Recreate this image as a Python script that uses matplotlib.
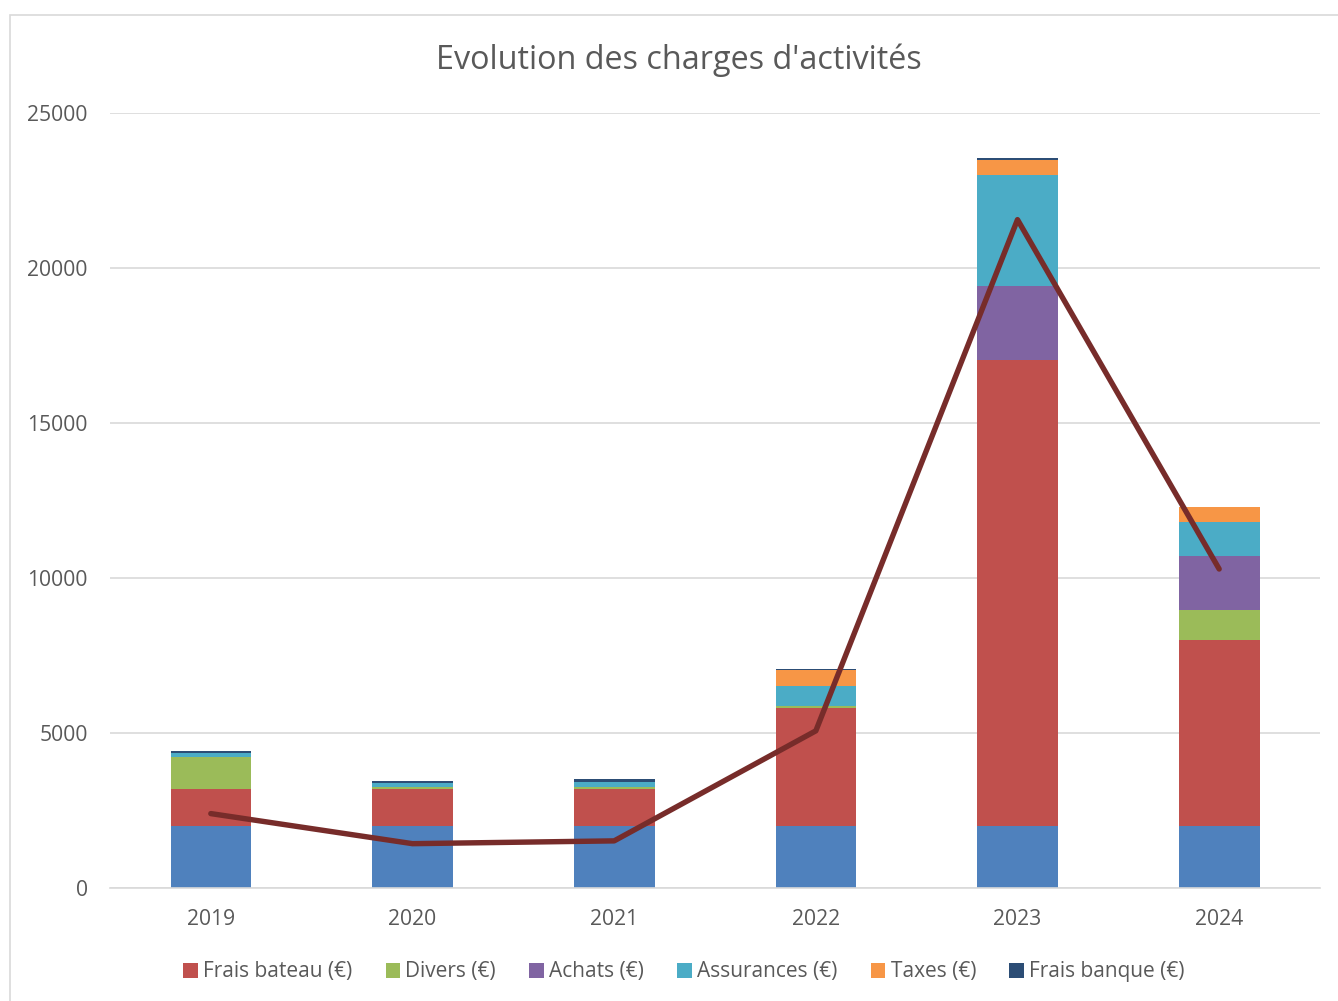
import matplotlib
matplotlib.use("Agg")
import matplotlib.pyplot as plt
from matplotlib.patches import Rectangle, Patch
import numpy as np

plt.rcParams['font.family'] = ['Open Sans', 'DejaVu Sans']

years = ["2019", "2020", "2021", "2022", "2023", "2024"]
base = [2000, 2000, 2000, 2000, 2000, 2000]
frais_bateau = [1200, 1180, 1190, 3816, 15030, 6010]
divers = [1010, 65, 75, 65, 0, 960]
achats = [0, 0, 0, 0, 2390, 1750]
assurances = [150, 150, 160, 645, 3570, 1090]
taxes = [0, 0, 0, 500, 500, 495]
frais_banque = [50, 45, 95, 50, 45, 0]
total_line = [2400, 1430, 1520, 5070, 21560, 10290]

series = [
    ("Frais bateau (€)", frais_bateau, "#C0504D"),
    ("Divers (€)", divers, "#9BBB59"),
    ("Achats (€)", achats, "#8064A2"),
    ("Assurances (€)", assurances, "#4BACC6"),
    ("Taxes (€)", taxes, "#F79646"),
    ("Frais banque (€)", frais_banque, "#2C4D75"),
]

W, H = 1338, 1001
fig = plt.figure(figsize=(W / 100, H / 100), dpi=100)
fig.patch.set_facecolor("white")

# chart-area border
fig.add_artist(Rectangle((10 / W, -0.01), 1.02, (H - 15) / H + 0.01,
                         transform=fig.transFigure, fill=False,
                         edgecolor="#D9D9D9", linewidth=1.2))

ax = fig.add_axes([110 / W, 1 - 888 / H, (1320 - 110) / W, (888 - 113) / H])
x = np.arange(len(years))
width = 0.4
bottom = np.zeros(len(years))
ax.bar(x, base, width, bottom=bottom, color="#4F81BD", zorder=2)
bottom += np.array(base)
handles = []
for name, vals, col in series:
    ax.bar(x, vals, width, bottom=bottom, color=col, zorder=2)
    bottom += np.array(vals)
    handles.append(Patch(facecolor=col, label=name))

ax.plot(x, total_line, color="#772C2A", linewidth=3.9, solid_capstyle="round", zorder=3)

ax.set_xlim(-0.5, len(years) - 0.5)
ax.set_ylim(0, 25000)
ax.set_yticks(np.arange(0, 25001, 5000))
ax.set_xticks(x)
ax.set_xticklabels(years)
ax.yaxis.grid(True, color="#D9D9D9", linewidth=1.2, zorder=0)
ax.set_axisbelow(True)
for s in ["top", "right", "left"]:
    ax.spines[s].set_visible(False)
ax.spines["bottom"].set_color("#D9D9D9")
ax.spines["bottom"].set_linewidth(1.2)
ax.tick_params(axis="both", length=0, labelsize=15.2, colors="#595959")
ax.tick_params(axis="x", pad=15)
ax.tick_params(axis="y", pad=16)

fig.text(679 / W, 1 - 60 / H, "Evolution des charges d'activités", ha="center",
         va="center", fontsize=23.3, color="#595959")

fig.legend(handles=handles, loc="center", bbox_to_anchor=(684 / W, 1 - 972 / H),
           ncol=6, frameon=False, fontsize=15, labelcolor="#595959",
           handlelength=0.7, handleheight=0.7, handletextpad=0.25, columnspacing=1.6)

fig.savefig("out.png", dpi=100, facecolor="white")
